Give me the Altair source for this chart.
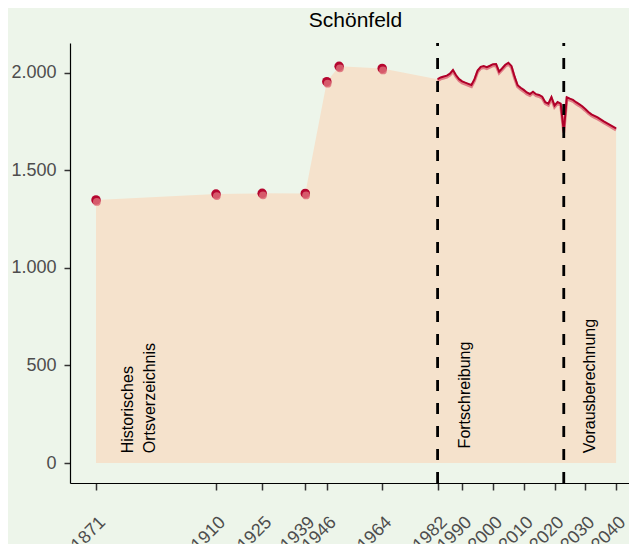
import altair as alt
import pandas as pd

# ---- data ----
title_text = "Schönfeld"

hist_years = [1871, 1910, 1925, 1939, 1946, 1950, 1964]
hist_values = [1349, 1379, 1383, 1382, 1955, 2034, 2023]

fort_years = list(range(1982, 2024))
fort_values = [1968, 1977, 1982, 1986, 1996, 2015, 1988, 1968, 1957, 1950,
               1944, 1938, 1968, 2012, 2031, 2035, 2030, 2037, 2045, 2046,
               2007, 2024, 2042, 2052, 2036, 1982, 1937, 1924, 1913, 1900,
               1892, 1904, 1891, 1887, 1878, 1850, 1842, 1876, 1833, 1851,
               1843, 1702]

proj_years = list(range(2024, 2041))
proj_values = [1875, 1868, 1862, 1850, 1840, 1829, 1815, 1800, 1788, 1780,
               1772, 1762, 1752, 1743, 1734, 1725, 1716]

tick_years = [1871, 1910, 1925, 1939, 1946, 1964, 1982, 1990, 2000, 2010,
              2020, 2030, 2040]
y_ticks = [0, 500, 1000, 1500, 2000]
break_years = [1982, 2023]

label_texts = ["Historisches\nOrtsverzeichnis", "Fortschreibung", "Vorausberechnung"]
label_years = [1881.3, 1991.0, 2031.6]
label_values = [50, 75, 50]

# ---- tables ----
all_df = pd.DataFrame({
    "year": hist_years + fort_years + proj_years,
    "value": hist_values + fort_values + proj_values,
})
line_df = pd.DataFrame({
    "year": fort_years + proj_years,
    "value": fort_values + proj_values,
})
hist_df = pd.DataFrame({"year": hist_years, "value": hist_values})
break_df = pd.DataFrame({"year": break_years})
label_df = pd.DataFrame({"year": label_years, "value": label_values, "text": label_texts})

FONT = "Liberation Sans"
W, H = 559, 440

xscale = alt.Scale(domain=[1862.55, 2044.2], nice=False, zero=False)
yscale = alt.Scale(domain=[-102.5, 2153.5], nice=False, zero=False)

x_axis = alt.Axis(
    values=tick_years, format="d", labelAngle=-45, labelAlign="right",
    labelBaseline="top", labelPadding=23, tickSize=7, tickWidth=1.5,
    tickColor="#333333", domainColor="black", domainWidth=1.2,
    labelFontSize=18, labelColor="#4D4D4D", labelFont=FONT,
    labelOverlap=False, labelFlush=False, grid=False, title=None,
)
y_axis = alt.Axis(
    values=y_ticks, labelExpr="replace(format(datum.value, ','), ',', '.')",
    tickSize=6, tickWidth=1.5, tickColor="#333333", domainColor="black",
    domainWidth=1.2, labelFontSize=18, labelColor="#4D4D4D", labelFont=FONT,
    labelPadding=8, grid=False, title=None,
)

area = alt.Chart(all_df).mark_area(color="#F5E2CC", opacity=1).encode(
    x=alt.X("year:Q", scale=xscale, axis=x_axis),
    y=alt.Y("value:Q", scale=yscale, axis=y_axis),
    y2=alt.datum(0),
)

line_light = alt.Chart(line_df).mark_line(
    color="#DC6A78", strokeWidth=3, opacity=0.85, yOffset=1.5
).encode(x=alt.X("year:Q", scale=xscale), y=alt.Y("value:Q", scale=yscale))

line_dark = alt.Chart(line_df).mark_line(
    color="#B00029", strokeWidth=2
).encode(x=alt.X("year:Q", scale=xscale), y=alt.Y("value:Q", scale=yscale))

pts_dark = alt.Chart(hist_df).mark_circle(
    color="#B5062F", size=90, opacity=1
).encode(x=alt.X("year:Q", scale=xscale), y=alt.Y("value:Q", scale=yscale))

pts_light = alt.Chart(hist_df).mark_circle(
    color="#DC6A76", size=60, opacity=0.85, xOffset=0.8, yOffset=2
).encode(x=alt.X("year:Q", scale=xscale), y=alt.Y("value:Q", scale=yscale))

rules = alt.Chart(break_df).mark_rule(
    color="black", strokeWidth=2.8, strokeDash=[11, 12]
).encode(
    x=alt.X("year:Q", scale=xscale),
    y=alt.value(H), y2=alt.value(0),
)

labels = alt.Chart(label_df).mark_text(
    angle=270, align="left", baseline="middle", fontSize=16, font=FONT,
    color="black", lineBreak="\n", lineHeight=22,
).encode(
    x=alt.X("year:Q", scale=xscale),
    y=alt.Y("value:Q", scale=yscale),
    text="text:N",
)

chart = alt.layer(area, labels, line_light, line_dark, pts_dark, pts_light, rules).properties(
    width=W, height=H,
    autosize=alt.AutoSizeParams(type="none"),
    padding={"left": 62, "top": 35, "right": 0, "bottom": 61},
    background="#EDF5EA",
    title=alt.TitleParams(
        text=title_text, fontSize=21, font=FONT, color="black",
        fontWeight="normal", anchor="middle", frame="group", dx=6, offset=11,
    ),
).configure_view(stroke=None)

chart.save("out.html", embed_options={"renderer": "svg", "actions": False})
